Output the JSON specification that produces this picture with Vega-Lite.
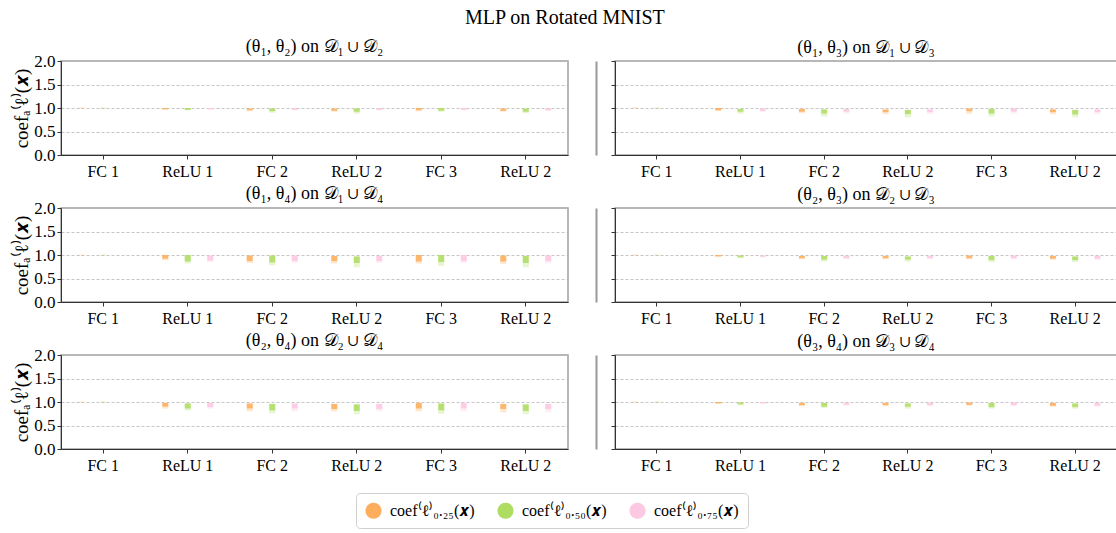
{
  "$schema": "https://vega.github.io/schema/vega-lite/v6.json",
  "padding": {"left": 12, "top": 8, "right": 0, "bottom": 0},
  "title": {"text": "MLP on Rotated MNIST", "fontSize": 20, "font": "Liberation Serif", "fontWeight": "normal", "anchor": "middle", "offset": 9},
  "data": {"values": [
    {"p":"p1","l":"L1","q":"0.25","hi":1.004,"lo":0.996,"tl":0.996},{"p":"p1","l":"L1","q":"0.50","hi":1.004,"lo":0.996,"tl":0.996},{"p":"p1","l":"L1","q":"0.75","hi":1.002,"lo":0.998,"tl":0.998},
    {"p":"p1","l":"L2","q":"0.25","hi":1.0,"lo":0.97,"tl":0.97},{"p":"p1","l":"L2","q":"0.50","hi":1.0,"lo":0.96,"tl":0.95},{"p":"p1","l":"L2","q":"0.75","hi":1.0,"lo":0.97,"tl":0.97},
    {"p":"p1","l":"L3","q":"0.25","hi":0.99,"lo":0.95,"tl":0.93},{"p":"p1","l":"L3","q":"0.50","hi":0.99,"lo":0.93,"tl":0.90},{"p":"p1","l":"L3","q":"0.75","hi":1.0,"lo":0.96,"tl":0.95},
    {"p":"p1","l":"L4","q":"0.25","hi":0.99,"lo":0.94,"tl":0.92},{"p":"p1","l":"L4","q":"0.50","hi":0.99,"lo":0.92,"tl":0.88},{"p":"p1","l":"L4","q":"0.75","hi":1.0,"lo":0.96,"tl":0.95},
    {"p":"p1","l":"L5","q":"0.25","hi":1.0,"lo":0.95,"tl":0.93},{"p":"p1","l":"L5","q":"0.50","hi":1.0,"lo":0.94,"tl":0.92},{"p":"p1","l":"L5","q":"0.75","hi":1.0,"lo":0.96,"tl":0.95},
    {"p":"p1","l":"L6","q":"0.25","hi":0.99,"lo":0.94,"tl":0.92},{"p":"p1","l":"L6","q":"0.50","hi":0.99,"lo":0.92,"tl":0.89},{"p":"p1","l":"L6","q":"0.75","hi":0.99,"lo":0.95,"tl":0.94},

    {"p":"p2","l":"L1","q":"0.25","hi":1.004,"lo":0.996,"tl":0.996},{"p":"p2","l":"L1","q":"0.50","hi":1.004,"lo":0.996,"tl":0.996},{"p":"p2","l":"L1","q":"0.75","hi":1.002,"lo":0.998,"tl":0.998},
    {"p":"p2","l":"L2","q":"0.25","hi":1.0,"lo":0.95,"tl":0.93},{"p":"p2","l":"L2","q":"0.50","hi":0.98,"lo":0.92,"tl":0.88},{"p":"p2","l":"L2","q":"0.75","hi":0.99,"lo":0.94,"tl":0.92},
    {"p":"p2","l":"L3","q":"0.25","hi":0.98,"lo":0.92,"tl":0.89},{"p":"p2","l":"L3","q":"0.50","hi":0.97,"lo":0.88,"tl":0.82},{"p":"p2","l":"L3","q":"0.75","hi":0.98,"lo":0.92,"tl":0.88},
    {"p":"p2","l":"L4","q":"0.25","hi":0.97,"lo":0.91,"tl":0.87},{"p":"p2","l":"L4","q":"0.50","hi":0.96,"lo":0.87,"tl":0.80},{"p":"p2","l":"L4","q":"0.75","hi":0.97,"lo":0.91,"tl":0.87},
    {"p":"p2","l":"L5","q":"0.25","hi":0.99,"lo":0.93,"tl":0.88},{"p":"p2","l":"L5","q":"0.50","hi":0.98,"lo":0.88,"tl":0.82},{"p":"p2","l":"L5","q":"0.75","hi":0.99,"lo":0.92,"tl":0.88},
    {"p":"p2","l":"L6","q":"0.25","hi":0.97,"lo":0.91,"tl":0.87},{"p":"p2","l":"L6","q":"0.50","hi":0.96,"lo":0.86,"tl":0.80},{"p":"p2","l":"L6","q":"0.75","hi":0.97,"lo":0.91,"tl":0.87},

    {"p":"p3","l":"L1","q":"0.25","hi":1.004,"lo":0.996,"tl":0.996},{"p":"p3","l":"L1","q":"0.50","hi":1.004,"lo":0.996,"tl":0.996},{"p":"p3","l":"L1","q":"0.75","hi":1.002,"lo":0.998,"tl":0.998},
    {"p":"p3","l":"L2","q":"0.25","hi":1.0,"lo":0.92,"tl":0.89},{"p":"p3","l":"L2","q":"0.50","hi":1.0,"lo":0.86,"tl":0.82},{"p":"p3","l":"L2","q":"0.75","hi":0.99,"lo":0.88,"tl":0.85},
    {"p":"p3","l":"L3","q":"0.25","hi":0.99,"lo":0.87,"tl":0.83},{"p":"p3","l":"L3","q":"0.50","hi":0.99,"lo":0.84,"tl":0.78},{"p":"p3","l":"L3","q":"0.75","hi":0.99,"lo":0.87,"tl":0.83},
    {"p":"p3","l":"L4","q":"0.25","hi":0.98,"lo":0.87,"tl":0.82},{"p":"p3","l":"L4","q":"0.50","hi":0.97,"lo":0.83,"tl":0.74},{"p":"p3","l":"L4","q":"0.75","hi":0.98,"lo":0.87,"tl":0.83},
    {"p":"p3","l":"L5","q":"0.25","hi":1.0,"lo":0.86,"tl":0.82},{"p":"p3","l":"L5","q":"0.50","hi":1.0,"lo":0.85,"tl":0.77},{"p":"p3","l":"L5","q":"0.75","hi":1.0,"lo":0.87,"tl":0.83},
    {"p":"p3","l":"L6","q":"0.25","hi":0.99,"lo":0.86,"tl":0.81},{"p":"p3","l":"L6","q":"0.50","hi":0.98,"lo":0.83,"tl":0.74},{"p":"p3","l":"L6","q":"0.75","hi":0.99,"lo":0.87,"tl":0.82},

    {"p":"p4","l":"L1","q":"0.25","hi":1.004,"lo":0.996,"tl":0.996},{"p":"p4","l":"L1","q":"0.50","hi":1.004,"lo":0.996,"tl":0.996},{"p":"p4","l":"L1","q":"0.75","hi":1.002,"lo":0.998,"tl":0.998},
    {"p":"p4","l":"L2","q":"0.25","hi":1.0,"lo":0.97,"tl":0.96},{"p":"p4","l":"L2","q":"0.50","hi":0.99,"lo":0.95,"tl":0.93},{"p":"p4","l":"L2","q":"0.75","hi":0.99,"lo":0.96,"tl":0.95},
    {"p":"p4","l":"L3","q":"0.25","hi":0.98,"lo":0.93,"tl":0.91},{"p":"p4","l":"L3","q":"0.50","hi":0.98,"lo":0.90,"tl":0.86},{"p":"p4","l":"L3","q":"0.75","hi":0.98,"lo":0.93,"tl":0.91},
    {"p":"p4","l":"L4","q":"0.25","hi":0.98,"lo":0.93,"tl":0.91},{"p":"p4","l":"L4","q":"0.50","hi":0.97,"lo":0.90,"tl":0.86},{"p":"p4","l":"L4","q":"0.75","hi":0.98,"lo":0.93,"tl":0.91},
    {"p":"p4","l":"L5","q":"0.25","hi":0.99,"lo":0.93,"tl":0.91},{"p":"p4","l":"L5","q":"0.50","hi":0.98,"lo":0.89,"tl":0.85},{"p":"p4","l":"L5","q":"0.75","hi":0.99,"lo":0.93,"tl":0.91},
    {"p":"p4","l":"L6","q":"0.25","hi":0.98,"lo":0.92,"tl":0.90},{"p":"p4","l":"L6","q":"0.50","hi":0.97,"lo":0.89,"tl":0.85},{"p":"p4","l":"L6","q":"0.75","hi":0.98,"lo":0.92,"tl":0.90},

    {"p":"p5","l":"L1","q":"0.25","hi":1.004,"lo":0.996,"tl":0.996},{"p":"p5","l":"L1","q":"0.50","hi":1.004,"lo":0.996,"tl":0.996},{"p":"p5","l":"L1","q":"0.75","hi":1.002,"lo":0.998,"tl":0.998},
    {"p":"p5","l":"L2","q":"0.25","hi":0.98,"lo":0.90,"tl":0.86},{"p":"p5","l":"L2","q":"0.50","hi":0.97,"lo":0.86,"tl":0.82},{"p":"p5","l":"L2","q":"0.75","hi":0.98,"lo":0.89,"tl":0.86},
    {"p":"p5","l":"L3","q":"0.25","hi":0.97,"lo":0.86,"tl":0.80},{"p":"p5","l":"L3","q":"0.50","hi":0.96,"lo":0.82,"tl":0.76},{"p":"p5","l":"L3","q":"0.75","hi":0.97,"lo":0.86,"tl":0.80},
    {"p":"p5","l":"L4","q":"0.25","hi":0.96,"lo":0.85,"tl":0.80},{"p":"p5","l":"L4","q":"0.50","hi":0.95,"lo":0.81,"tl":0.74},{"p":"p5","l":"L4","q":"0.75","hi":0.96,"lo":0.85,"tl":0.80},
    {"p":"p5","l":"L5","q":"0.25","hi":0.98,"lo":0.86,"tl":0.80},{"p":"p5","l":"L5","q":"0.50","hi":0.97,"lo":0.82,"tl":0.75},{"p":"p5","l":"L5","q":"0.75","hi":0.98,"lo":0.86,"tl":0.80},
    {"p":"p5","l":"L6","q":"0.25","hi":0.96,"lo":0.85,"tl":0.78},{"p":"p5","l":"L6","q":"0.50","hi":0.95,"lo":0.81,"tl":0.74},{"p":"p5","l":"L6","q":"0.75","hi":0.96,"lo":0.85,"tl":0.78},

    {"p":"p6","l":"L1","q":"0.25","hi":1.004,"lo":0.996,"tl":0.996},{"p":"p6","l":"L1","q":"0.50","hi":1.004,"lo":0.996,"tl":0.996},{"p":"p6","l":"L1","q":"0.75","hi":1.002,"lo":0.998,"tl":0.998},
    {"p":"p6","l":"L2","q":"0.25","hi":1.0,"lo":0.97,"tl":0.96},{"p":"p6","l":"L2","q":"0.50","hi":0.99,"lo":0.95,"tl":0.93},{"p":"p6","l":"L2","q":"0.75","hi":1.0,"lo":0.97,"tl":0.96},
    {"p":"p6","l":"L3","q":"0.25","hi":0.98,"lo":0.93,"tl":0.91},{"p":"p6","l":"L3","q":"0.50","hi":0.98,"lo":0.90,"tl":0.87},{"p":"p6","l":"L3","q":"0.75","hi":0.98,"lo":0.94,"tl":0.92},
    {"p":"p6","l":"L4","q":"0.25","hi":0.98,"lo":0.93,"tl":0.91},{"p":"p6","l":"L4","q":"0.50","hi":0.97,"lo":0.90,"tl":0.86},{"p":"p6","l":"L4","q":"0.75","hi":0.98,"lo":0.93,"tl":0.91},
    {"p":"p6","l":"L5","q":"0.25","hi":0.99,"lo":0.94,"tl":0.92},{"p":"p6","l":"L5","q":"0.50","hi":0.98,"lo":0.89,"tl":0.86},{"p":"p6","l":"L5","q":"0.75","hi":0.99,"lo":0.93,"tl":0.91},
    {"p":"p6","l":"L6","q":"0.25","hi":0.98,"lo":0.92,"tl":0.90},{"p":"p6","l":"L6","q":"0.50","hi":0.97,"lo":0.89,"tl":0.86},{"p":"p6","l":"L6","q":"0.75","hi":0.98,"lo":0.92,"tl":0.90}
  ]},
  "columns": 2,
  "spacing": {"row": 4, "column": 26},
  "concat": [
    {"title": {"text": "(θ₁, θ₂) on 𝒟₁ ∪ 𝒟₂", "offset": -4}, "width": 507, "height": 94,
     "transform": [{"filter": "datum.p === 'p1'"}],
     "encoding": {
       "x": {"field": "l", "type": "nominal", "sort": ["L1","L2","L3","L4","L5","L6"], "scale": {"paddingInner": 0, "paddingOuter": 0}, "axis": {"title": null, "labelAngle": 0, "labelExpr": "{'L1':'FC 1','L2':'ReLU 1','L3':'FC 2','L4':'ReLU 2','L5':'FC 3','L6':'ReLU 2'}[datum.value]"}},
       "xOffset": {"field": "q", "type": "nominal", "scale": {"paddingInner": 0.73, "paddingOuter": 0.745}},
       "color": {"field": "q", "type": "nominal", "scale": {"domain": ["0.25","0.50","0.75"], "range": ["#fdae5c","#aedd62","#fcc8e2"]}, "legend": {"title": null, "orient": "none", "legendX": 295, "legendY": 432, "direction": "horizontal", "labelExpr": "{'0.25':'coef⁽ℓ⁾₀.₂₅(𝒙)','0.50':'coef⁽ℓ⁾₀.₅₀(𝒙)','0.75':'coef⁽ℓ⁾₀.₇₅(𝒙)'}[datum.value]"}}
     },
     "layer": [
       {"mark": {"type": "bar", "opacity": 0.9}, "encoding": {"y": {"field": "hi", "type": "quantitative", "scale": {"domain": [0, 2]}, "axis": {"values": [0, 0.5, 1, 1.5, 2], "format": ".1f", "labelOverlap": false, "title": "coefₐ⁽ℓ⁾(𝒙)"}}, "y2": {"field": "lo"}}},
       {"mark": {"type": "bar", "opacity": 0.3}, "encoding": {"y": {"field": "lo", "type": "quantitative", "axis": {"values": [0, 0.5, 1, 1.5, 2], "format": ".1f", "labelOverlap": false, "title": "coefₐ⁽ℓ⁾(𝒙)"}}, "y2": {"field": "tl"}}}
     ]},
    {"title": {"text": "(θ₁, θ₃) on 𝒟₁ ∪ 𝒟₃", "offset": 4}, "width": 502, "height": 94,
     "transform": [{"filter": "datum.p === 'p2'"}],
     "encoding": {
       "x": {"field": "l", "type": "nominal", "sort": ["L1","L2","L3","L4","L5","L6"], "scale": {"paddingInner": 0, "paddingOuter": 0}, "axis": {"title": null, "labelAngle": 0, "labelExpr": "{'L1':'FC 1','L2':'ReLU 1','L3':'FC 2','L4':'ReLU 2','L5':'FC 3','L6':'ReLU 2'}[datum.value]"}},
       "xOffset": {"field": "q", "type": "nominal", "scale": {"paddingInner": 0.73, "paddingOuter": 0.745}},
       "color": {"field": "q", "type": "nominal"}
     },
     "layer": [
       {"mark": {"type": "bar", "opacity": 0.9}, "encoding": {"y": {"field": "hi", "type": "quantitative", "scale": {"domain": [0, 2]}, "axis": {"values": [0, 0.5, 1, 1.5, 2], "labels": false, "title": null}}, "y2": {"field": "lo"}}},
       {"mark": {"type": "bar", "opacity": 0.3}, "encoding": {"y": {"field": "lo", "type": "quantitative", "axis": {"orient": "left", "offset": 19, "labels": false, "ticks": false, "grid": false, "title": null, "domainColor": "#999", "domainWidth": 2}}, "y2": {"field": "tl"}}}
     ],
     "resolve": {"axis": {"y": "independent"}}},
    {"title": {"text": "(θ₁, θ₄) on 𝒟₁ ∪ 𝒟₄", "offset": -4}, "width": 507, "height": 94,
     "transform": [{"filter": "datum.p === 'p3'"}],
     "encoding": {
       "x": {"field": "l", "type": "nominal", "sort": ["L1","L2","L3","L4","L5","L6"], "scale": {"paddingInner": 0, "paddingOuter": 0}, "axis": {"title": null, "labelAngle": 0, "labelExpr": "{'L1':'FC 1','L2':'ReLU 1','L3':'FC 2','L4':'ReLU 2','L5':'FC 3','L6':'ReLU 2'}[datum.value]"}},
       "xOffset": {"field": "q", "type": "nominal", "scale": {"paddingInner": 0.73, "paddingOuter": 0.745}},
       "color": {"field": "q", "type": "nominal"}
     },
     "layer": [
       {"mark": {"type": "bar", "opacity": 0.9}, "encoding": {"y": {"field": "hi", "type": "quantitative", "scale": {"domain": [0, 2]}, "axis": {"values": [0, 0.5, 1, 1.5, 2], "format": ".1f", "labelOverlap": false, "title": "coefₐ⁽ℓ⁾(𝒙)"}}, "y2": {"field": "lo"}}},
       {"mark": {"type": "bar", "opacity": 0.3}, "encoding": {"y": {"field": "lo", "type": "quantitative", "axis": {"values": [0, 0.5, 1, 1.5, 2], "format": ".1f", "labelOverlap": false, "title": "coefₐ⁽ℓ⁾(𝒙)"}}, "y2": {"field": "tl"}}}
     ]},
    {"title": {"text": "(θ₂, θ₃) on 𝒟₂ ∪ 𝒟₃", "offset": 4}, "width": 502, "height": 94,
     "transform": [{"filter": "datum.p === 'p4'"}],
     "encoding": {
       "x": {"field": "l", "type": "nominal", "sort": ["L1","L2","L3","L4","L5","L6"], "scale": {"paddingInner": 0, "paddingOuter": 0}, "axis": {"title": null, "labelAngle": 0, "labelExpr": "{'L1':'FC 1','L2':'ReLU 1','L3':'FC 2','L4':'ReLU 2','L5':'FC 3','L6':'ReLU 2'}[datum.value]"}},
       "xOffset": {"field": "q", "type": "nominal", "scale": {"paddingInner": 0.73, "paddingOuter": 0.745}},
       "color": {"field": "q", "type": "nominal"}
     },
     "layer": [
       {"mark": {"type": "bar", "opacity": 0.9}, "encoding": {"y": {"field": "hi", "type": "quantitative", "scale": {"domain": [0, 2]}, "axis": {"values": [0, 0.5, 1, 1.5, 2], "labels": false, "title": null}}, "y2": {"field": "lo"}}},
       {"mark": {"type": "bar", "opacity": 0.3}, "encoding": {"y": {"field": "lo", "type": "quantitative", "axis": {"orient": "left", "offset": 19, "labels": false, "ticks": false, "grid": false, "title": null, "domainColor": "#999", "domainWidth": 2}}, "y2": {"field": "tl"}}}
     ],
     "resolve": {"axis": {"y": "independent"}}},
    {"title": {"text": "(θ₂, θ₄) on 𝒟₂ ∪ 𝒟₄", "offset": -4}, "width": 507, "height": 94,
     "transform": [{"filter": "datum.p === 'p5'"}],
     "encoding": {
       "x": {"field": "l", "type": "nominal", "sort": ["L1","L2","L3","L4","L5","L6"], "scale": {"paddingInner": 0, "paddingOuter": 0}, "axis": {"title": null, "labelAngle": 0, "labelExpr": "{'L1':'FC 1','L2':'ReLU 1','L3':'FC 2','L4':'ReLU 2','L5':'FC 3','L6':'ReLU 2'}[datum.value]"}},
       "xOffset": {"field": "q", "type": "nominal", "scale": {"paddingInner": 0.73, "paddingOuter": 0.745}},
       "color": {"field": "q", "type": "nominal"}
     },
     "layer": [
       {"mark": {"type": "bar", "opacity": 0.9}, "encoding": {"y": {"field": "hi", "type": "quantitative", "scale": {"domain": [0, 2]}, "axis": {"values": [0, 0.5, 1, 1.5, 2], "format": ".1f", "labelOverlap": false, "title": "coefₐ⁽ℓ⁾(𝒙)"}}, "y2": {"field": "lo"}}},
       {"mark": {"type": "bar", "opacity": 0.3}, "encoding": {"y": {"field": "lo", "type": "quantitative", "axis": {"values": [0, 0.5, 1, 1.5, 2], "format": ".1f", "labelOverlap": false, "title": "coefₐ⁽ℓ⁾(𝒙)"}}, "y2": {"field": "tl"}}}
     ]},
    {"title": {"text": "(θ₃, θ₄) on 𝒟₃ ∪ 𝒟₄", "offset": 4}, "width": 502, "height": 94,
     "transform": [{"filter": "datum.p === 'p6'"}],
     "encoding": {
       "x": {"field": "l", "type": "nominal", "sort": ["L1","L2","L3","L4","L5","L6"], "scale": {"paddingInner": 0, "paddingOuter": 0}, "axis": {"title": null, "labelAngle": 0, "labelExpr": "{'L1':'FC 1','L2':'ReLU 1','L3':'FC 2','L4':'ReLU 2','L5':'FC 3','L6':'ReLU 2'}[datum.value]"}},
       "xOffset": {"field": "q", "type": "nominal", "scale": {"paddingInner": 0.73, "paddingOuter": 0.745}},
       "color": {"field": "q", "type": "nominal"}
     },
     "layer": [
       {"mark": {"type": "bar", "opacity": 0.9}, "encoding": {"y": {"field": "hi", "type": "quantitative", "scale": {"domain": [0, 2]}, "axis": {"values": [0, 0.5, 1, 1.5, 2], "labels": false, "title": null}}, "y2": {"field": "lo"}}},
       {"mark": {"type": "bar", "opacity": 0.3}, "encoding": {"y": {"field": "lo", "type": "quantitative", "axis": {"orient": "left", "offset": 19, "labels": false, "ticks": false, "grid": false, "title": null, "domainColor": "#999", "domainWidth": 2}}, "y2": {"field": "tl"}}}
     ],
     "resolve": {"axis": {"y": "independent"}}}
  ],
  "resolve": {"scale": {"x": "independent", "y": "independent", "xOffset": "independent"}},
  "config": {
    "font": "Liberation Serif",
    "view": {"stroke": "#a0a0a0", "strokeWidth": 1.5},
    "title": {"fontSize": 18, "fontWeight": "normal", "font": "Liberation Serif", "color": "#000"},
    "axis": {"labelFont": "Liberation Serif", "labelFontSize": 16, "labelColor": "#000", "domainColor": "#333", "tickColor": "#333", "tickSize": 4, "labelPadding": 2, "titleFont": "Liberation Serif", "titleFontSize": 19, "titleFontWeight": "normal", "titleColor": "#000", "titlePadding": 2},
    "axisX": {"grid": false, "labelFontSize": 16, "labelPadding": 4},
    "axisY": {"grid": true, "gridDash": [3, 2], "gridColor": "#b8b8b8", "gridWidth": 0.8, "labelFontSize": 17},
    "legend": {"labelFont": "Liberation Serif", "labelFontSize": 16, "labelColor": "#000", "symbolType": "circle", "symbolSize": 260, "symbolStrokeWidth": 0, "symbolOpacity": 1, "columnPadding": 22, "padding": 9, "strokeColor": "#d0d0d0", "cornerRadius": 4, "labelOffset": 8}
  }
}
